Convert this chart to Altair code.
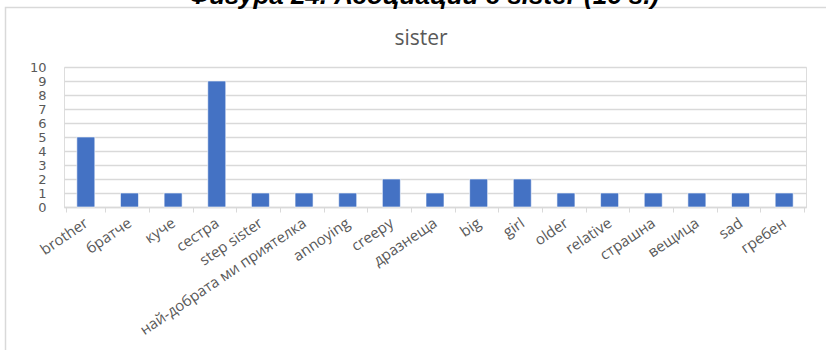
import altair as alt
import pandas as pd

categories = ["brother", "братче", "куче", "сестра", "step sister",
              "най-добрата ми приятелка", "annoying", "creepy", "дразнеща",
              "big", "girl", "older", "relative", "страшна", "вещица", "sad", "гребен"]
counts = [5, 1, 1, 9, 1, 1, 1, 2, 1, 2, 2, 1, 1, 1, 1, 1, 1]
y_ticks = list(range(0, 11))
chart_title = "sister"
header = "Фигура 24. Асоциации с sister (16 s.)"

df = pd.DataFrame({"cat": categories, "n": counts})
one = pd.DataFrame({"a": [0]})

GRAY = "#595959"
LINE = "#d9d9d9"
FONT = "Open Sans"

bars = alt.Chart(df).mark_bar(color="#4472C4", size=18, stroke="#ffffff", strokeWidth=0.6).encode(
    x=alt.X("cat:N", sort=categories, title=None,
            axis=alt.Axis(labelAngle=-34, labelAlign="right", labelBaseline="middle",
                          labelFont=FONT, labelFontSize=15, labelColor=GRAY,
                          labelPadding=9, tickBand="extent", tickSize=5,
                          tickColor=LINE, domainColor=LINE, domainWidth=1.5,
                          grid=False, labelOverlap=False, labelLimit=400)),
    y=alt.Y("n:Q", title=None, scale=alt.Scale(domain=[0, 10], nice=False),
            axis=alt.Axis(values=y_ticks, labelFont="DejaVu Sans", labelFontSize=13,
                          labelColor=GRAY, labelPadding=18, ticks=False, domain=False,
                          labelOverlap=False, labelBound=False,
                          gridColor=LINE, gridWidth=1.5)),
)

title_text = alt.Chart(one).mark_text(
    text=chart_title, font=FONT, fontSize=21, color=GRAY, baseline="alphabetic", align="center"
).encode(x=alt.value(357), y=alt.value(-22))

header_text = alt.Chart(one).mark_text(
    text=header, font="Liberation Sans", fontSize=26, fontWeight="bold", fontStyle="italic",
    color="#000000", baseline="alphabetic", align="center"
).encode(x=alt.value(360), y=alt.value(-63))

box = alt.Chart(one).mark_rect(fill=None, stroke=LINE, strokeWidth=1.5).encode(
    x=alt.value(-58.5), y=alt.value(-59.5), x2=alt.value(800), y2=alt.value(400)
)

chart = alt.layer(box, bars, title_text, header_text).properties(
    width=742, height=140,
    autosize=alt.AutoSizeParams(type="none"),
    padding={"left": 64, "top": 67, "right": 20, "bottom": 143},
).configure_view(stroke=None).configure(background="white")

chart.save("out.html", embed_options={"renderer": "svg", "actions": False})
